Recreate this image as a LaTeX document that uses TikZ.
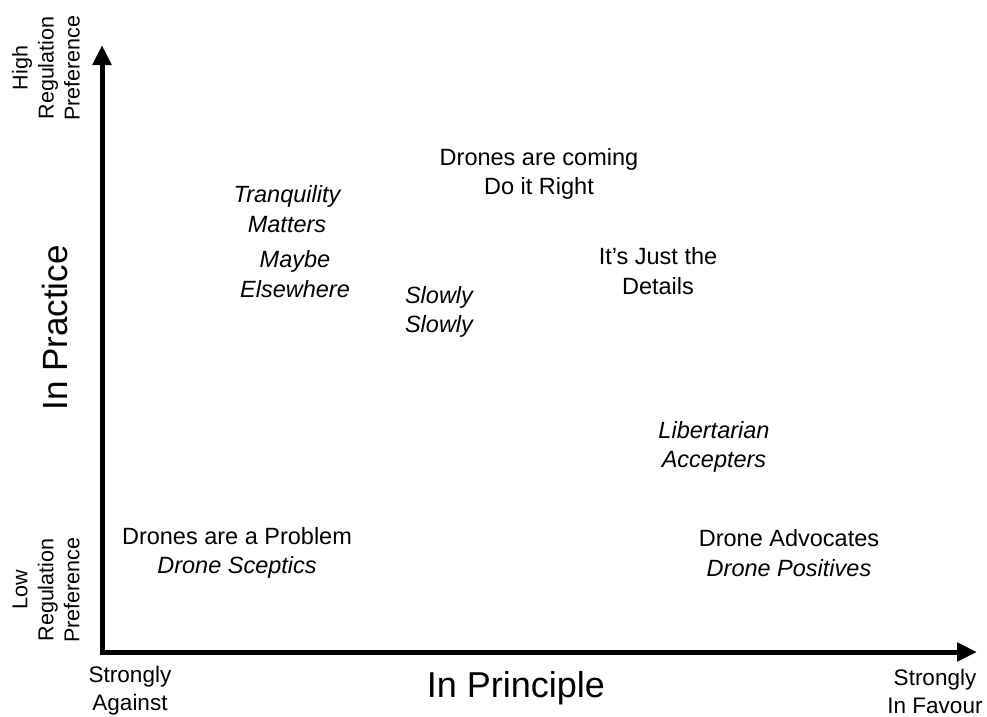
\documentclass[tikz,border=0pt]{standalone}
\usepackage{fontspec}
\setmainfont{Liberation Sans}
\usetikzlibrary{arrows.meta, positioning}

\begin{document}
\begin{tikzpicture}[x=1pt, y=-1pt,
            grp/.style={align=center, inner sep=0pt, font=\fontsize{23.5}{29.5}\selectfont},
            grpit/.style={grp, font=\fontsize{23.5}{29.5}\selectfont\itshape},
            ends/.style={align=center, inner sep=0pt, font=\fontsize{22.5}{28}\selectfont},
            side/.style={align=center, inner sep=0pt, rotate=90, font=\fontsize{21.5}{26}\selectfont},
            axis/.style={line width=5pt, {Triangle[length=20pt, width=18pt]}-{Triangle[length=20pt, width=18pt]}}
        ]
            \useasboundingbox (0,0) rectangle (987,716);

            % axes
            \coordinate (origin) at (102,652);
            \coordinate (ytip) at (102,45);
            \coordinate (xtip) at (977,652);
            \draw[axis] (ytip) -- (origin) -- (xtip);

            \node[rotate=90, font=\fontsize{35}{40}\selectfont] (practice) at (55,328) {In Practice};
            \node[font=\fontsize{36}{40}\selectfont] (principle) at (516,688) {In Principle};

            \node[side] (high) at (46,68) {High\\Regulation\\Preference};
            \node[side] (low) at (46,590) {Low\\Regulation\\Preference};
            \node[ends] (against) at (130,691) {Strongly\\Against};
            \node[ends] (favour) at (935,691) {Strongly\\In Favour};

            % groups
            \node[grp] (coming) at (539,174) {Drones are coming\\Do it Right};
            \node[grpit] (tranq) at (287,209) {Tranquility\\Matters};
            \node[grpit] (maybe) at (295,274) {Maybe\\Elsewhere};
            \node[grp] (details) at (658,271) {It’s Just the\\Details};
            \node[grpit] (slowly) at (439,312) {Slowly\\Slowly};
            \node[grpit] (liber) at (714,447) {Libertarian\\Accepters};
            \node[grp] (sceptic) at (237,553) {Drones are a Problem\\\textit{Drone Sceptics}};
            \node[grp] (advoc) at (789,553) {Drone Advocates\\\textit{Drone Positives}};
        \end{tikzpicture}
\end{document}
